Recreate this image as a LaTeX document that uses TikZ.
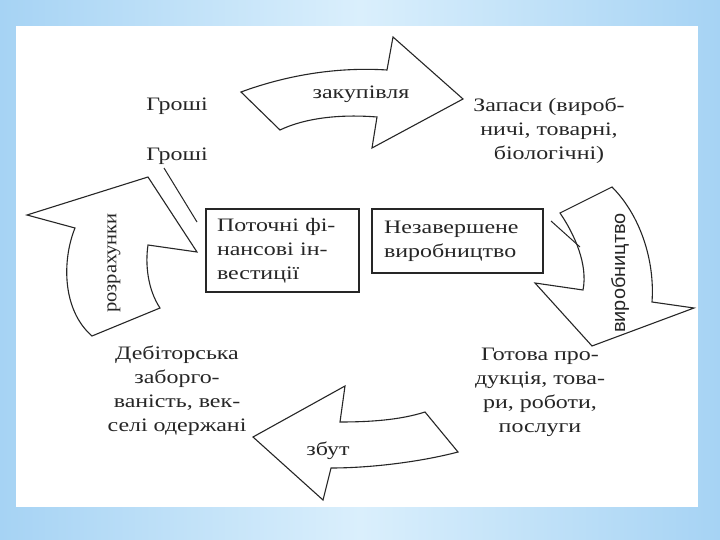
\documentclass[tikz,border=0pt]{standalone}
\usepackage{fontspec}
\setmainfont{Liberation Serif}[FakeStretch=1.26]
\newfontfamily\rotserif{Liberation Serif}[FakeStretch=1.08]
\newfontfamily\rotsans{Liberation Sans}[FakeStretch=1.05]
\definecolor{bgouter}{HTML}{A6D3F4}
\definecolor{bginner}{HTML}{DAEFFC}
\definecolor{ink}{HTML}{262626}
\begin{document}
\begin{tikzpicture}[x=1pt,y=-1pt,
  shp/.style={draw=ink, line width=1.1pt, fill=white, line join=miter},
  lead/.style={draw=ink, line width=1pt},
  lbl/.style={font=\fontsize{19}{24}\selectfont, align=center, inner sep=0pt, text=ink},
  boxn/.style={draw=ink, line width=1.1pt, font=\fontsize{19}{24}\selectfont, align=left, text=ink, inner ysep=0pt, inner xsep=11pt},
  rotl/.style={inner sep=0pt, text=ink, rotate=90}]
\useasboundingbox (0,0) rectangle (720,540);
% background
\shade[left color=bgouter, right color=bgouter, middle color=bginner] (0,0) rectangle (720,540);
\fill[white] (16,26) rectangle (698,507);

% arrows
\draw[shp] (241,92) .. controls (290,74) and (340,67) .. (387,70) -- (393,37) -- (463,99)
  -- (372,148) -- (377,117) .. controls (340,114) and (305,118) .. (280,130) -- cycle;
\draw[shp] (560,213) -- (612,187) .. controls (640,215) and (655,260) .. (652,302)
  -- (694,308) -- (592,346) -- (535,283) -- (583,290) .. controls (588,265) and (575,235) .. cycle;
\draw[shp] (148,177) -- (197,252) -- (148,245) .. controls (145,265) and (148,290) .. (160,308)
  -- (92,336) .. controls (62,310) and (62,260) .. (75,228) -- (27,215) -- cycle;
\draw[shp] (253,437) -- (345,386) -- (340,422) .. controls (370,422) and (400,420) .. (425,412)
  -- (458,452) .. controls (420,462) and (370,468) .. (331,468) -- (323,500) -- cycle;

% boxes
\node[boxn, minimum width=153pt, minimum height=83pt, text width=131pt] (fin) at (282.5,250.5)
  {Поточні фі-\\нансові ін-\\вестиції};
\node[boxn, minimum width=171pt, minimum height=64pt, text width=147pt, inner xsep=12pt] (wip) at (457.5,241)
  {Незавершене\\виробництво};

% texts
\node[lbl] (money1) at (177,106) {Гроші};
\node[lbl] (money2) at (177,156) {Гроші};
\node[lbl] (stock) at (549,131) {Запаси (вироб-\\ничі, товарні,\\біологічні)};
\node[lbl] (recv) at (177,391) {Дебіторська\\заборго-\\ваність, век-\\селі одержані};
\node[lbl] (goods) at (540,392) {Готова про-\\дукція, това-\\ри, роботи,\\послуги};
\node[lbl] (buy) at (361,94) {закупівля};
\node[lbl] (sell) at (328,451) {збут};
\node[rotl, font=\rotsans\fontsize{19}{20}\selectfont] (prod) at (620,273) {виробництво};
\node[rotl, font=\rotserif\fontsize{19}{20}\selectfont] (settle) at (114,263) {розрахунки};

% leader lines
\coordinate (l1a) at (164,168);
\coordinate (l1b) at (197,222);
\coordinate (l2a) at (551,221);
\coordinate (l2b) at (580,247);
\draw[lead] (l1a) -- (l1b);
\draw[lead] (l2a) -- (l2b);
\end{tikzpicture}
\end{document}
